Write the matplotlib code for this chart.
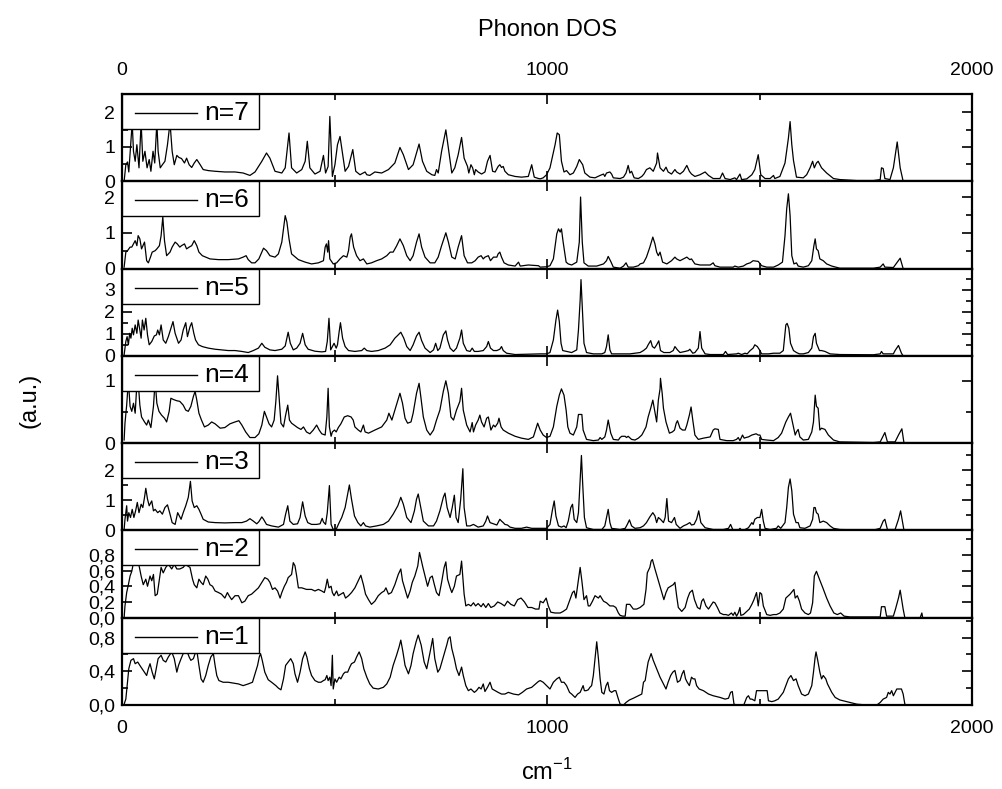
import numpy as np
import matplotlib
matplotlib.use("Agg")
import matplotlib.pyplot as plt
from matplotlib.ticker import FixedLocator, FuncFormatter
from matplotlib.patches import Rectangle
from matplotlib.lines import Line2D

plt.rcParams['font.family'] = ['Liberation Sans', 'DejaVu Sans']

# ---------------- data: [wavenumber (cm^-1), DOS (a.u.)] ----------------
n7 = np.array([
[5,0.00],[9,0.48],[13,0.56],[16,0.27],[21,1.16],[24,1.70],[27,0.87],[31,0.58],[35,1.06],[40,0.39],
[45,1.70],[49,0.58],[54,0.87],[59,0.39],[64,0.63],[68,0.29],[73,0.87],[77,0.53],[82,1.70],[85,0.87],
[90,0.39],[95,0.48],[101,0.58],[107,1.06],[113,1.70],[118,0.87],[123,0.48],[129,0.75],[134,0.69],[140,0.66],
[147,0.53],[152,0.67],[158,0.48],[164,0.40],[170,0.53],[176,0.63],[184,0.48],[191,0.34],[203,0.31],[219,0.29],
[242,0.27],[266,0.27],[285,0.24],[301,0.17],[313,0.27],[329,0.58],[340,0.82],[348,0.67],[360,0.29],[376,0.24],
[384,0.39],[393,1.40],[399,0.39],[411,0.24],[423,0.34],[431,0.58],[436,1.16],[442,0.39],[454,0.21],[466,0.29],
[474,0.75],[479,0.24],[485,0.43],[489,1.88],[495,0.14],[501,0.48],[507,1.06],[513,1.30],[518,0.87],[525,0.29],
[533,0.43],[543,0.92],[550,0.29],[560,0.19],[572,0.27],[576,0.19],[583,0.17],[595,0.27],[611,0.24],[627,0.34],
[642,0.53],[654,0.98],[662,0.77],[674,0.34],[685,0.48],[699,1.08],[707,0.58],[717,0.29],[729,0.19],[736,0.17],
[740,0.34],[744,0.24],[752,0.87],[762,1.49],[769,0.87],[776,0.24],[783,0.39],[791,0.77],[799,1.27],[805,0.67],
[813,0.43],[816,0.24],[821,0.48],[825,0.39],[829,0.19],[832,0.34],[838,0.27],[846,0.21],[854,0.27],[860,0.58],
[866,0.75],[872,0.29],[878,0.27],[885,0.43],[889,0.48],[893,0.40],[897,0.43],[901,0.29],[909,0.19],[925,0.14],
[940,0.12],[956,0.14],[964,0.48],[970,0.12],[980,0.08],
[984,0.07],[991,0.10],[999,0.19],[1007,0.39],[1019,1.06],[1024,1.40],[1029,1.35],[1034,0.58],[1040,0.27],[1046,0.31],
[1054,0.19],[1062,0.24],[1070,0.43],[1076,0.63],[1084,0.48],[1089,0.24],[1101,0.12],[1113,0.10],[1125,0.17],[1133,0.21],
[1136,0.14],[1140,0.24],[1148,0.27],[1152,0.21],[1156,0.10],[1172,0.08],[1180,0.12],[1186,0.24],[1191,0.46],[1195,0.24],
[1199,0.29],[1205,0.10],[1215,0.08],[1223,0.14],[1228,0.21],[1234,0.34],[1242,0.39],[1250,0.29],[1258,0.53],[1260,0.82],
[1266,0.39],[1274,0.29],[1280,0.41],[1285,0.27],[1293,0.21],[1301,0.34],[1305,0.27],[1313,0.21],[1321,0.29],[1329,0.46],
[1335,0.29],[1340,0.21],[1348,0.14],[1360,0.19],[1372,0.27],[1380,0.17],[1391,0.08],[1407,0.08],[1413,0.24],[1419,0.08],
[1431,0.05],[1442,0.10],[1446,0.05],[1454,0.21],[1458,0.05],[1470,0.07],[1482,0.19],[1489,0.34],[1497,0.77],[1503,0.19],
[1513,0.08],[1525,0.08],[1533,0.17],[1536,0.08],[1548,0.14],[1560,0.53],[1568,1.25],[1572,1.73],[1576,1.06],[1580,0.60],
[1583,0.39],[1587,0.12],[1603,0.10],[1611,0.19],[1619,0.39],[1625,0.58],[1629,0.39],[1634,0.53],[1638,0.58],[1646,0.39],
[1658,0.24],[1674,0.08],[1689,0.05],[1729,0.02],[1768,0.02],[1784,0.05],[1787,0.39],[1791,0.37],[1795,0.08],[1807,0.05],
[1815,0.39],[1824,1.14],[1831,0.39],[1838,0.00]])

n6 = np.array([
[5,0.04],[9,0.46],[13,0.50],[19,0.60],[23,0.60],[27,0.69],[31,0.78],[35,0.64],[38,0.92],[42,0.83],
[46,0.55],[53,0.74],[58,0.22],[62,0.16],[67,0.32],[71,0.46],[78,0.50],[82,0.55],[88,0.64],[92,0.92],
[96,1.44],[100,0.78],[105,0.36],[113,0.46],[118,0.60],[125,0.74],[130,0.69],[136,0.60],[140,0.64],[147,0.69],
[152,0.55],[158,0.60],[164,0.64],[170,0.78],[176,0.64],[181,0.46],[189,0.36],[197,0.32],[207,0.27],[227,0.25],
[250,0.25],[274,0.27],[285,0.32],[292,0.36],[297,0.25],[305,0.16],[313,0.16],[322,0.27],[333,0.57],[340,0.50],
[348,0.36],[360,0.32],[368,0.41],[376,0.74],[380,1.11],[384,1.48],[388,1.30],[393,0.83],[399,0.41],[415,0.25],
[431,0.18],[446,0.13],[462,0.16],[474,0.22],[478,0.60],[481,0.69],[484,0.46],[486,0.78],[489,0.27],[497,0.13],
[505,0.16],[513,0.27],[521,0.36],[529,0.32],[533,0.50],[537,0.88],[540,0.97],[545,0.60],[552,0.36],[560,0.22],
[568,0.27],[576,0.13],[587,0.16],[599,0.22],[611,0.27],[623,0.36],[631,0.46],[638,0.46],[646,0.63],[654,0.83],
[662,0.64],[670,0.36],[678,0.22],[685,0.36],[693,0.74],[699,0.97],[705,0.60],[713,0.32],[725,0.16],[736,0.16],
[744,0.32],[752,0.64],[762,1.00],[768,0.74],[776,0.32],[784,0.27],[791,0.60],[799,0.92],[805,0.36],[813,0.16],
[823,0.16],[831,0.22],[838,0.32],[845,0.36],[850,0.27],[854,0.32],[862,0.36],[867,0.22],[874,0.32],[882,0.32],
[885,0.41],[889,0.46],[893,0.32],[899,0.16],[909,0.10],[925,0.07],[933,0.18],[937,0.07],[956,0.10],[980,0.08],
[984,0.04],[999,0.05],[1007,0.08],[1015,0.27],[1023,0.97],[1027,1.11],[1031,1.02],[1034,1.11],[1038,0.74],[1045,0.18],
[1050,0.13],[1058,0.10],[1070,0.18],[1076,0.74],[1079,2.00],[1083,0.74],[1087,0.16],[1097,0.07],[1117,0.07],[1133,0.13],
[1140,0.22],[1144,0.34],[1150,0.20],[1156,0.04],[1172,0.01],[1180,0.07],[1186,0.16],[1191,0.04],[1203,0.04],[1215,0.08],
[1219,0.13],[1227,0.16],[1234,0.32],[1242,0.60],[1249,0.88],[1254,0.69],[1258,0.46],[1262,0.36],[1266,0.46],[1272,0.18],
[1282,0.13],[1293,0.22],[1301,0.32],[1305,0.27],[1313,0.22],[1321,0.27],[1329,0.32],[1336,0.25],[1340,0.27],[1348,0.13],
[1360,0.10],[1384,0.10],[1391,0.16],[1395,0.08],[1407,0.04],[1438,0.04],[1442,0.07],[1450,0.04],[1462,0.07],[1470,0.13],
[1478,0.16],[1485,0.22],[1497,0.20],[1505,0.08],[1517,0.04],[1533,0.04],[1544,0.10],[1554,0.18],[1560,0.92],[1564,1.67],
[1568,2.09],[1572,1.48],[1576,0.36],[1581,0.13],[1587,0.16],[1591,0.07],[1603,0.04],[1615,0.08],[1623,0.22],[1628,0.64],
[1631,0.83],[1634,0.55],[1638,0.50],[1642,0.27],[1650,0.22],[1658,0.13],[1670,0.07],[1689,0.01],[1768,0.01],[1784,0.04],
[1791,0.13],[1795,0.04],[1815,0.03],[1823,0.16],[1831,0.29],[1838,0.00]])

n5 = np.array([
[5,0.05],[9,0.65],[12,0.87],[15,0.50],[18,1.02],[21,0.80],[24,1.25],[27,0.95],[31,1.40],[35,1.02],
[38,1.62],[42,1.17],[45,0.80],[48,1.62],[52,1.17],[56,1.70],[60,0.95],[64,0.50],[70,0.65],[76,0.90],
[81,0.95],[84,1.17],[88,0.95],[92,1.40],[97,0.72],[103,0.57],[109,0.87],[115,1.25],[120,1.55],[125,1.02],
[133,0.57],[139,0.72],[144,1.17],[150,1.50],[154,0.87],[160,1.32],[164,1.50],[169,1.02],[173,0.72],[180,0.50],
[189,0.42],[203,0.35],[219,0.30],[234,0.27],[250,0.24],[266,0.24],[282,0.20],[297,0.15],[309,0.24],[321,0.35],
[329,0.57],[336,0.39],[348,0.27],[360,0.24],[376,0.30],[384,0.45],[387,0.72],[391,1.07],[396,0.57],[403,0.27],
[411,0.35],[419,0.57],[425,1.02],[431,0.50],[438,0.30],[454,0.21],[470,0.18],[479,0.20],[483,0.65],[487,1.70],
[491,0.27],[495,0.42],[499,0.57],[504,0.35],[507,0.50],[511,1.10],[514,1.50],[519,0.80],[525,0.42],[533,0.24],
[548,0.20],[564,0.24],[570,0.35],[576,0.24],[587,0.20],[603,0.24],[619,0.35],[631,0.50],[642,0.80],[650,0.95],
[656,1.07],[663,0.80],[670,0.42],[678,0.24],[685,0.50],[693,0.90],[699,1.07],[705,0.69],[713,0.35],[725,0.15],
[733,0.27],[738,0.57],[743,0.24],[748,0.35],[756,0.95],[762,1.13],[766,0.72],[772,0.35],[780,0.20],[787,0.35],
[795,0.80],[799,1.17],[803,0.57],[811,0.24],[819,0.20],[824,0.35],[829,0.20],[838,0.20],[850,0.24],[858,0.42],
[862,0.65],[867,0.35],[874,0.24],[882,0.24],[889,0.30],[893,0.42],[897,0.24],[905,0.12],[925,0.06],[964,0.08],
[984,0.09],[999,0.09],[1007,0.15],[1015,0.72],[1021,1.62],[1025,2.07],[1029,1.55],[1033,0.57],[1037,0.24],[1046,0.20],
[1058,0.15],[1070,0.27],[1074,1.17],[1078,2.52],[1080,3.45],[1083,2.22],[1087,0.57],[1093,0.15],[1109,0.09],[1129,0.09],
[1136,0.15],[1140,0.42],[1144,0.95],[1148,0.27],[1152,0.09],[1172,0.09],[1195,0.09],[1219,0.15],[1227,0.24],[1234,0.35],
[1238,0.50],[1244,0.69],[1248,0.42],[1253,0.35],[1258,0.50],[1263,0.68],[1267,0.24],[1275,0.15],[1289,0.15],[1297,0.24],
[1301,0.42],[1307,0.27],[1313,0.15],[1325,0.20],[1333,0.24],[1336,0.30],[1343,0.12],[1348,0.15],[1356,0.35],[1360,1.10],
[1364,0.35],[1372,0.09],[1384,0.06],[1415,0.06],[1420,0.20],[1425,0.06],[1446,0.09],[1450,0.12],[1458,0.06],[1466,0.12],
[1471,0.09],[1478,0.24],[1485,0.35],[1489,0.50],[1495,0.42],[1501,0.24],[1505,0.09],[1521,0.09],[1533,0.12],[1548,0.12],
[1556,0.24],[1562,1.40],[1565,1.47],[1569,1.25],[1573,0.57],[1580,0.24],[1587,0.15],[1594,0.09],[1603,0.09],[1615,0.15],
[1623,0.35],[1627,0.87],[1631,1.02],[1634,0.57],[1641,0.24],[1646,0.24],[1654,0.20],[1666,0.09],[1689,0.06],[1768,0.05],
[1784,0.09],[1787,0.20],[1791,0.09],[1815,0.09],[1819,0.24],[1827,0.47],[1834,0.12],[1838,0.00]])

n4 = np.array([
[5,0.05],[7,0.32],[11,0.61],[15,1.00],[19,0.59],[23,0.51],[27,0.64],[31,0.48],[35,0.95],[38,1.00],
[42,0.61],[46,0.42],[53,0.34],[58,0.29],[62,0.37],[68,0.25],[74,0.59],[78,1.00],[82,0.64],[87,0.51],
[93,0.45],[100,0.40],[105,0.34],[111,0.51],[115,0.72],[121,0.70],[129,0.68],[136,0.67],[144,0.61],[150,0.53],
[156,0.51],[162,0.59],[168,0.75],[172,0.83],[176,0.69],[181,0.48],[187,0.37],[194,0.26],[203,0.29],[211,0.34],
[219,0.31],[231,0.24],[242,0.25],[254,0.31],[266,0.34],[275,0.36],[282,0.29],[291,0.18],[301,0.09],[313,0.09],
[322,0.15],[329,0.29],[335,0.51],[340,0.42],[346,0.31],[352,0.26],[358,0.37],[362,0.67],[366,1.08],[370,0.69],
[374,0.32],[380,0.26],[385,0.45],[390,0.61],[394,0.37],[399,0.32],[405,0.29],[413,0.25],[421,0.22],[427,0.26],
[434,0.18],[442,0.15],[450,0.21],[458,0.29],[464,0.21],[470,0.15],[478,0.13],[482,0.42],[485,0.88],[488,0.26],
[492,0.11],[495,0.18],[500,0.21],[504,0.18],[509,0.25],[515,0.31],[523,0.42],[531,0.44],[539,0.42],[544,0.37],
[548,0.26],[556,0.21],[562,0.18],[568,0.29],[572,0.18],[580,0.16],[595,0.21],[611,0.26],[623,0.37],[628,0.48],
[635,0.37],[642,0.53],[649,0.69],[654,0.80],[660,0.64],[666,0.40],[672,0.32],[680,0.34],[685,0.48],[693,0.80],
[699,0.96],[703,0.75],[709,0.42],[717,0.21],[725,0.13],[733,0.21],[740,0.37],[748,0.53],[756,0.83],[762,1.00],
[768,0.80],[774,0.42],[780,0.37],[787,0.53],[795,0.67],[799,0.88],[803,0.53],[811,0.29],[819,0.18],[824,0.33],
[827,0.18],[832,0.29],[838,0.37],[842,0.45],[846,0.34],[852,0.26],[858,0.40],[862,0.42],[868,0.21],[874,0.29],
[878,0.26],[884,0.32],[887,0.40],[892,0.26],[897,0.21],[909,0.16],[925,0.11],[940,0.08],[956,0.06],[968,0.10],
[973,0.21],[978,0.32],
[984,0.21],[991,0.13],[999,0.09],[1007,0.11],[1015,0.26],[1023,0.59],[1029,0.77],[1034,0.87],[1040,0.77],[1045,0.53],
[1049,0.26],[1054,0.16],[1062,0.13],[1070,0.26],[1074,0.46],[1082,0.46],[1085,0.21],[1093,0.06],[1109,0.04],[1121,0.05],
[1125,0.09],[1129,0.06],[1136,0.10],[1140,0.21],[1144,0.37],[1150,0.16],[1156,0.06],[1168,0.05],[1172,0.09],[1176,0.11],
[1184,0.11],[1187,0.09],[1191,0.11],[1199,0.06],[1207,0.05],[1215,0.08],[1223,0.13],[1227,0.18],[1233,0.26],[1238,0.42],
[1244,0.56],[1249,0.69],[1253,0.53],[1258,0.34],[1262,0.69],[1266,0.87],[1267,1.04],[1271,0.80],[1274,0.56],[1280,0.34],
[1288,0.16],[1295,0.18],[1300,0.21],[1304,0.32],[1307,0.36],[1313,0.24],[1319,0.21],[1325,0.21],[1329,0.29],[1335,0.45],
[1339,0.58],[1343,0.37],[1348,0.13],[1356,0.06],[1368,0.08],[1384,0.10],[1391,0.21],[1395,0.23],[1403,0.22],[1407,0.06],
[1423,0.04],[1438,0.04],[1446,0.06],[1450,0.09],[1454,0.04],[1460,0.13],[1464,0.08],[1468,0.09],[1474,0.10],[1482,0.13],
[1492,0.15],[1497,0.13],[1501,0.13],[1505,0.06],[1517,0.05],[1533,0.04],[1544,0.09],[1552,0.16],[1562,0.34],[1568,0.42],
[1573,0.48],[1578,0.32],[1584,0.13],[1587,0.18],[1591,0.22],[1595,0.10],[1603,0.05],[1615,0.06],[1623,0.18],[1627,0.34],
[1631,0.77],[1634,0.59],[1638,0.56],[1642,0.21],[1646,0.24],[1654,0.22],[1662,0.13],[1674,0.05],[1689,0.02],[1768,0.01],
[1784,0.02],[1795,0.17],[1801,0.02],[1819,0.02],[1827,0.13],[1835,0.23],[1840,0.00]])

n3 = np.array([
[5,0.03],[7,0.37],[11,0.82],[13,0.31],[16,0.59],[20,0.43],[24,0.70],[28,0.43],[32,0.65],[36,0.93],
[40,0.59],[45,0.87],[49,0.76],[53,1.10],[56,1.40],[60,1.04],[64,0.82],[70,0.98],[74,0.65],[78,0.70],
[84,0.59],[89,0.65],[95,0.54],[101,0.76],[107,0.85],[113,0.54],[118,0.26],[125,0.20],[131,0.59],[135,0.48],
[139,0.37],[144,0.59],[150,0.82],[156,1.10],[161,1.63],[165,0.98],[170,0.76],[176,0.82],[181,0.70],[186,0.54],
[191,0.37],[203,0.28],[219,0.26],[242,0.25],[266,0.26],[282,0.26],[293,0.31],[301,0.39],[309,0.31],[317,0.22],
[322,0.29],[329,0.45],[333,0.37],[340,0.20],[352,0.15],[368,0.11],[380,0.20],[385,0.54],[390,0.82],[395,0.31],
[403,0.20],[413,0.22],[419,0.43],[425,0.95],[431,0.48],[437,0.26],[446,0.20],[458,0.20],[466,0.22],[471,0.40],
[474,0.28],[479,0.20],[483,0.59],[488,1.49],[492,0.20],[497,0.03],[505,0.07],[511,0.26],[517,0.43],[525,0.76],
[531,1.21],[535,1.51],[540,1.04],[547,0.48],[555,0.26],[562,0.15],[568,0.26],[573,0.15],[583,0.11],[599,0.15],
[615,0.20],[627,0.31],[638,0.54],[649,0.82],[656,1.10],[662,0.87],[670,0.43],[680,0.26],[688,0.65],[693,1.04],
[697,1.21],[703,0.76],[709,0.31],[721,0.15],[733,0.15],[740,0.31],[748,0.65],[756,1.10],[760,1.24],[765,0.76],
[772,0.43],[777,0.76],[782,1.17],[786,0.43],[791,0.26],[797,1.04],[802,2.05],[805,0.76],[811,0.15],[819,0.15],
[827,0.20],[838,0.11],[850,0.15],[856,0.31],[860,0.48],[866,0.26],[874,0.22],[882,0.18],[885,0.26],[889,0.37],
[893,0.31],[897,0.26],[901,0.20],[907,0.18],[913,0.11],[925,0.07],[940,0.07],[952,0.11],[964,0.07],
[984,0.07],[999,0.07],[1007,0.20],[1013,0.70],[1017,0.98],[1021,0.48],[1027,0.15],[1034,0.11],[1040,0.15],[1045,0.09],
[1050,0.31],[1056,0.76],[1060,0.87],[1064,0.37],[1070,0.26],[1074,0.59],[1078,1.66],[1081,2.49],[1084,1.54],[1088,0.43],
[1093,0.09],[1109,0.03],[1129,0.03],[1136,0.15],[1140,0.43],[1144,0.70],[1148,0.26],[1152,0.07],[1172,0.03],[1184,0.07],
[1189,0.20],[1194,0.35],[1199,0.15],[1207,0.07],[1219,0.09],[1227,0.15],[1234,0.26],[1242,0.45],[1249,0.59],[1254,0.48],
[1258,0.26],[1262,0.43],[1267,0.37],[1274,0.26],[1278,0.43],[1282,1.06],[1286,0.31],[1293,0.26],[1300,0.43],[1304,0.20],
[1313,0.07],[1321,0.15],[1329,0.20],[1336,0.26],[1340,0.18],[1346,0.20],[1352,0.37],[1357,0.65],[1362,0.26],[1372,0.09],
[1391,0.03],[1415,0.03],[1427,0.07],[1432,0.20],[1437,0.03],[1450,0.00],[1454,0.07],[1458,0.00],[1466,0.03],[1474,0.09],
[1482,0.26],[1485,0.20],[1489,0.37],[1495,0.43],[1501,0.43],[1505,0.70],[1509,0.31],[1513,0.07],[1525,0.03],[1540,0.07],
[1544,0.15],[1550,0.07],[1560,0.26],[1564,0.76],[1568,1.43],[1572,1.71],[1576,1.32],[1580,0.54],[1586,0.26],[1591,0.26],
[1595,0.09],[1607,0.07],[1619,0.15],[1625,0.37],[1628,0.76],[1631,0.76],[1634,0.59],[1638,0.54],[1642,0.26],[1650,0.31],
[1658,0.26],[1666,0.15],[1674,0.07],[1689,0.03],[1768,0.01],[1784,0.07],[1791,0.31],[1795,0.37],[1801,0.03],[1819,0.03],
[1827,0.37],[1832,0.65],[1840,0.00]])

n2 = np.array([
[5,0.00],[7,0.15],[11,0.32],[15,0.42],[19,0.53],[23,0.59],[27,0.70],[31,0.72],[38,0.72],[45,0.53],
[50,0.42],[56,0.49],[60,0.40],[66,0.53],[70,0.47],[74,0.55],[78,0.28],[83,0.30],[87,0.45],[92,0.64],
[97,0.57],[103,0.64],[109,0.68],[117,0.62],[123,0.68],[129,0.62],[136,0.62],[144,0.64],[150,0.68],[154,0.66],
[160,0.64],[166,0.49],[170,0.42],[176,0.38],[181,0.49],[186,0.45],[191,0.42],[197,0.53],[202,0.49],[207,0.42],
[213,0.40],[219,0.34],[227,0.32],[234,0.30],[242,0.25],[248,0.32],[252,0.28],[258,0.23],[266,0.28],[274,0.28],
[282,0.19],[289,0.21],[297,0.28],[305,0.30],[313,0.34],[321,0.38],[329,0.45],[336,0.51],[343,0.49],[348,0.45],
[354,0.36],[360,0.38],[366,0.34],[372,0.25],[376,0.32],[382,0.40],[387,0.45],[391,0.51],[395,0.53],[399,0.55],
[403,0.70],[407,0.66],[411,0.53],[415,0.38],[423,0.38],[434,0.36],[446,0.36],[454,0.34],[462,0.36],[470,0.34],
[476,0.32],[479,0.38],[483,0.49],[487,0.38],[492,0.40],[495,0.32],[499,0.28],[505,0.34],[509,0.28],[515,0.30],
[521,0.32],[526,0.25],[533,0.28],[540,0.32],[548,0.38],[556,0.47],[562,0.54],[568,0.42],[573,0.30],[580,0.23],
[587,0.17],[595,0.21],[603,0.28],[611,0.32],[617,0.34],[621,0.38],[627,0.30],[634,0.32],[642,0.42],[650,0.55],
[656,0.62],[660,0.47],[666,0.36],[672,0.25],[678,0.34],[683,0.45],[689,0.53],[696,0.66],[700,0.83],[703,0.76],
[708,0.64],[714,0.51],[719,0.40],[725,0.51],[730,0.53],[735,0.42],[740,0.32],[746,0.28],[752,0.45],[758,0.64],
[762,0.71],[766,0.49],[772,0.38],[776,0.32],[782,0.40],[787,0.53],[795,0.55],[799,0.72],[802,0.51],[805,0.30],
[809,0.15],[815,0.17],[821,0.15],[827,0.19],[832,0.15],[838,0.18],[845,0.14],[850,0.18],[856,0.13],[862,0.18],
[868,0.13],[876,0.15],[884,0.20],[892,0.18],[900,0.15],[907,0.21],[915,0.17],[923,0.15],[931,0.23],[939,0.25],
[947,0.20],[955,0.13],[964,0.13],[973,0.11],[981,0.11],
[984,0.21],[991,0.19],[998,0.25],[1003,0.15],[1009,0.07],[1019,0.06],[1031,0.06],[1038,0.08],[1046,0.11],[1054,0.23],
[1060,0.32],[1064,0.34],[1068,0.25],[1074,0.49],[1078,0.64],[1082,0.47],[1087,0.23],[1093,0.28],[1097,0.15],[1101,0.15],
[1107,0.21],[1113,0.28],[1121,0.25],[1125,0.28],[1133,0.21],[1140,0.19],[1148,0.15],[1156,0.15],[1162,0.13],[1168,0.06],
[1172,0.03],[1178,0.02],[1184,0.02],[1187,0.17],[1195,0.17],[1203,0.11],[1211,0.11],[1219,0.13],[1228,0.17],[1233,0.36],
[1236,0.57],[1242,0.64],[1245,0.72],[1248,0.74],[1254,0.62],[1262,0.47],[1270,0.32],[1275,0.23],[1280,0.32],[1285,0.38],
[1291,0.40],[1297,0.42],[1301,0.45],[1305,0.28],[1309,0.13],[1317,0.08],[1325,0.13],[1331,0.25],[1336,0.32],[1342,0.35],
[1347,0.23],[1354,0.13],[1360,0.11],[1364,0.21],[1368,0.24],[1374,0.15],[1380,0.11],[1385,0.15],[1391,0.20],[1395,0.19],
[1401,0.13],[1407,0.06],[1415,0.04],[1421,0.04],[1427,0.03],[1434,0.06],[1438,0.03],[1442,0.07],[1446,0.02],[1450,0.06],
[1454,0.13],[1456,0.03],[1462,0.04],[1470,0.08],[1476,0.11],[1482,0.17],[1487,0.23],[1493,0.32],[1497,0.15],[1501,0.32],
[1505,0.30],[1509,0.15],[1517,0.04],[1525,0.03],[1533,0.04],[1540,0.04],[1548,0.06],[1556,0.11],[1562,0.25],[1572,0.30],
[1581,0.36],[1584,0.25],[1589,0.28],[1594,0.21],[1599,0.11],[1607,0.06],[1615,0.04],[1620,0.06],[1625,0.19],[1629,0.53],
[1634,0.59],[1641,0.49],[1649,0.38],[1658,0.25],[1666,0.15],[1675,0.06],[1683,0.04],[1691,0.06],[1699,0.02],[1713,0.01],
[1736,0.01],[1768,0.01],[1784,0.01],[1787,0.14],[1795,0.14],[1799,0.02],[1815,0.02],[1820,0.11],[1827,0.25],[1831,0.35],
[1835,0.21],[1838,0.11],[1842,0.00],[1878,0.00],[1882,0.06],[1884,0.00]])

n1 = np.array([
[5,0.01],[9,0.07],[13,0.27],[16,0.43],[21,0.53],[27,0.55],[31,0.49],[37,0.51],[42,0.47],[50,0.41],
[58,0.35],[62,0.43],[66,0.49],[71,0.39],[76,0.31],[82,0.47],[85,0.55],[92,0.59],[97,0.53],[103,0.51],
[109,0.57],[117,0.63],[123,0.55],[129,0.39],[133,0.47],[139,0.55],[144,0.61],[152,0.65],[158,0.57],[162,0.53],
[168,0.55],[172,0.61],[176,0.65],[181,0.47],[186,0.31],[191,0.27],[197,0.35],[203,0.47],[209,0.57],[215,0.61],
[219,0.47],[223,0.35],[228,0.29],[238,0.27],[250,0.27],[262,0.26],[274,0.25],[285,0.23],[297,0.25],[307,0.27],
[313,0.37],[319,0.47],[323,0.57],[326,0.61],[330,0.53],[336,0.39],[344,0.30],[352,0.27],[362,0.23],[368,0.20],
[374,0.18],[380,0.31],[385,0.47],[391,0.51],[397,0.55],[403,0.49],[407,0.37],[413,0.27],[419,0.39],[425,0.55],
[431,0.63],[435,0.57],[441,0.43],[446,0.35],[454,0.29],[462,0.27],[468,0.27],[474,0.29],[478,0.30],[482,0.35],
[485,0.29],[489,0.33],[492,0.23],[495,0.59],[497,0.19],[501,0.31],[505,0.27],[511,0.33],[515,0.31],[521,0.37],
[525,0.39],[531,0.39],[536,0.45],[540,0.49],[547,0.51],[552,0.57],[558,0.63],[564,0.55],[569,0.43],[576,0.33],
[583,0.25],[591,0.20],[603,0.19],[615,0.21],[623,0.25],[631,0.33],[638,0.47],[646,0.59],[652,0.69],[656,0.77],
[661,0.63],[666,0.47],[674,0.37],[680,0.47],[685,0.61],[692,0.75],[697,0.83],[704,0.71],[711,0.51],[717,0.43],
[725,0.63],[731,0.79],[736,0.55],[743,0.39],[748,0.43],[756,0.57],[764,0.71],[768,0.79],[772,0.81],[776,0.67],
[782,0.55],[787,0.43],[793,0.35],[799,0.45],[803,0.35],[809,0.23],[815,0.17],[821,0.19],[829,0.15],[834,0.17],
[840,0.21],[845,0.19],[850,0.25],[854,0.16],[860,0.21],[866,0.27],[871,0.19],[878,0.17],[885,0.15],[893,0.13],
[901,0.13],[909,0.15],[921,0.13],[933,0.12],[942,0.15],[952,0.19],[964,0.21],[973,0.25],[980,0.28],
[984,0.29],[991,0.27],[999,0.23],[1007,0.19],[1015,0.27],[1023,0.31],[1029,0.33],[1034,0.27],[1040,0.27],[1046,0.23],
[1053,0.15],[1058,0.13],[1066,0.09],[1072,0.13],[1078,0.15],[1085,0.23],[1088,0.17],[1092,0.17],[1097,0.18],[1101,0.21],
[1105,0.23],[1109,0.35],[1113,0.55],[1117,0.75],[1121,0.55],[1125,0.31],[1129,0.15],[1134,0.13],[1139,0.23],[1143,0.27],
[1147,0.17],[1152,0.15],[1158,0.17],[1162,0.17],[1168,0.07],[1172,0.01],[1180,0.00],[1186,0.03],[1194,0.06],[1203,0.08],
[1215,0.11],[1223,0.13],[1227,0.27],[1231,0.29],[1234,0.39],[1238,0.51],[1245,0.61],[1250,0.53],[1258,0.43],[1266,0.33],
[1274,0.25],[1280,0.19],[1285,0.27],[1291,0.35],[1296,0.39],[1301,0.41],[1307,0.27],[1313,0.29],[1318,0.37],[1322,0.41],
[1326,0.31],[1330,0.27],[1335,0.23],[1340,0.33],[1344,0.31],[1348,0.31],[1352,0.23],[1358,0.19],[1368,0.17],[1380,0.13],
[1391,0.11],[1407,0.09],[1419,0.07],[1427,0.08],[1432,0.15],[1436,0.16],[1440,0.01],[1446,0.00],[1463,0.00],[1470,0.09],
[1474,0.11],[1478,0.07],[1482,0.07],[1489,0.05],[1493,0.17],[1518,0.17],[1521,0.05],[1529,0.04],[1536,0.05],[1544,0.07],
[1550,0.11],[1556,0.15],[1562,0.23],[1568,0.31],[1574,0.35],[1580,0.29],[1586,0.31],[1591,0.23],[1599,0.13],[1607,0.11],
[1615,0.13],[1623,0.23],[1627,0.39],[1631,0.57],[1633,0.63],[1637,0.53],[1642,0.39],[1646,0.31],[1650,0.35],[1656,0.31],
[1660,0.25],[1664,0.21],[1670,0.15],[1678,0.09],[1689,0.06],[1705,0.04],[1729,0.01],[1752,0.00],[1776,0.00],[1784,0.03],
[1791,0.07],[1799,0.09],[1803,0.15],[1807,0.13],[1811,0.17],[1815,0.11],[1823,0.19],[1834,0.19],[1838,0.13],[1842,0.01],
[1846,0.00]])

labels = ["n=7", "n=6", "n=5", "n=4", "n=3", "n=2", "n=1"]
series = [n7, n6, n5, n4, n3, n2, n1]
y_top = [2.53, 2.44, 3.95, 1.40, 2.90, 1.11, 1.036]
y_major = [[0, 1, 2], [0, 1, 2], [0, 1, 2, 3], [0, 1], [0, 1, 2],
           [0, 0.2, 0.4, 0.6, 0.8], [0, 0.4, 0.8]]
y_minor = [[0.5, 1.5], [0.5, 1.5], [0.5, 1.5, 2.5, 3.5], [0.5], [0.5, 1.5, 2.5],
           [1.0], [0.2, 0.6, 1.0]]
x_major = [0, 1000, 2000]
x_minor = [500, 1500]

W, H = 1002, 789
fig = plt.figure(figsize=(W / 100, H / 100), dpi=100)

left_px, right_px = 122, 972
top_px, bot_px = 94, 705
ph = (bot_px - top_px) / 7.0

tick_fs = 14
for i, (lab, d) in enumerate(zip(labels, series)):
    y0 = top_px + i * ph
    ax = fig.add_axes([left_px / W, 1 - (y0 + ph) / H, (right_px - left_px) / W, ph / H])
    ax.plot(d[:, 0], d[:, 1], color='black', lw=0.9)
    ax.set_xlim(0, 2000)
    ax.set_ylim(0, y_top[i])
    for s in ax.spines.values():
        s.set_linewidth(1.6)
    ax.xaxis.set_major_locator(FixedLocator(x_major))
    ax.xaxis.set_minor_locator(FixedLocator(x_minor))
    ax.yaxis.set_major_locator(FixedLocator(y_major[i]))
    ax.yaxis.set_minor_locator(FixedLocator(y_minor[i]))
    if i >= 5:
        ax.yaxis.set_major_formatter(FuncFormatter(lambda v, p: f"{v:.1f}".replace('.', ',')))
    else:
        ax.yaxis.set_major_formatter(FuncFormatter(lambda v, p: f"{v:.0f}"))
    ax.tick_params(which='both', direction='in', top=True, right=True, bottom=True, left=True,
                   width=1.2, labelsize=tick_fs)
    ax.tick_params(which='major', length=7)
    ax.tick_params(which='minor', length=4)
    ax.tick_params(axis='y', which='major', pad=5)
    ax.tick_params(axis='x', which='major', pad=11,
                   labelbottom=(i == 6), labeltop=(i == 0))

    # legend box at upper-left corner
    bw = 137 / (right_px - left_px)
    bh = 35 / ph
    ax.add_patch(Rectangle((0, 1 - bh), bw, bh, transform=ax.transAxes, facecolor='white',
                           edgecolor='black', lw=1.0, zorder=5, clip_on=False))
    ly = 1 - 19 / ph
    ax.add_line(Line2D([13 / 850, 75 / 850], [ly, ly], transform=ax.transAxes,
                       color='black', lw=1.0, zorder=6))
    ax.text(82 / 850, ly, lab, transform=ax.transAxes, fontsize=19, va='center', ha='left',
            zorder=7)

fig.text(547 / W, 1 - 30 / H, "Phonon DOS", ha='center', va='center', fontsize=17)
fig.text(547 / W, 1 - 772 / H, r"cm$^{\mathregular{-1}}$", ha='center', va='center', fontsize=17)
fig.text(30 / W, 1 - 400 / H, "(a.u.)", ha='center', va='center', rotation=90, fontsize=17)

fig.savefig("out.png", dpi=100)
